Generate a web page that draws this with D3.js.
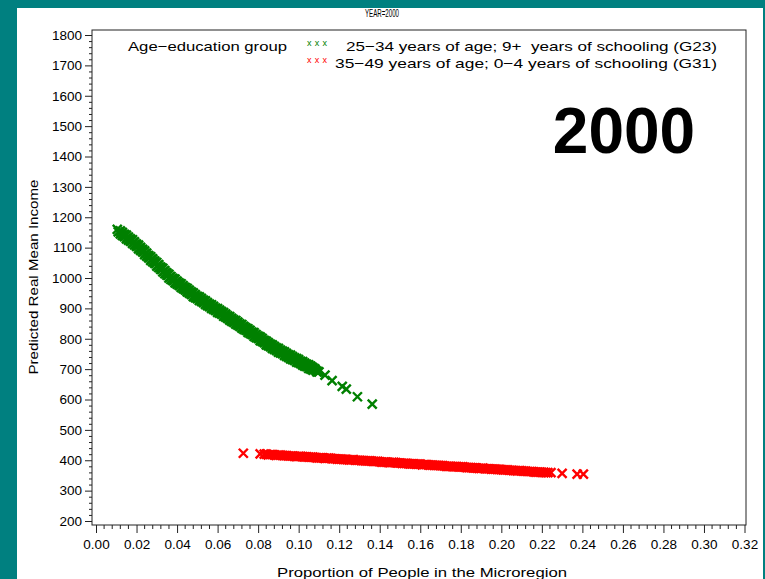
<!DOCTYPE html>
<html>
<head>
<meta charset="utf-8">
<script src="https://cdn.jsdelivr.net/npm/d3@7"></script>
<style>
  html, body { margin: 0; padding: 0; background: #008080; }
  svg { display: block; }
  text { font-family: "Liberation Sans", Arial, sans-serif; fill: #000; white-space: pre; }
</style>
</head>
<body>
<svg id="chart" width="765" height="579"></svg>
<script>
// Age-education group G23: 25-34 years of age, 9+ years of schooling
const g23X = [0.0105, 0.011, 0.012, 0.013, 0.014, 0.015, 0.016, 0.017, 0.018, 0.019, 0.020,
  0.021, 0.022, 0.023, 0.024, 0.025, 0.026, 0.027, 0.028, 0.029, 0.030,
  0.031, 0.032, 0.033, 0.034, 0.035, 0.036, 0.037, 0.038, 0.039, 0.040,
  0.041, 0.042, 0.043, 0.044, 0.045, 0.046, 0.047, 0.048, 0.049, 0.050,
  0.051, 0.052, 0.053, 0.054, 0.055, 0.056, 0.057, 0.058, 0.059, 0.060,
  0.061, 0.062, 0.063, 0.064, 0.065, 0.066, 0.067, 0.068, 0.069, 0.070,
  0.071, 0.072, 0.073, 0.074, 0.075, 0.076, 0.077, 0.078, 0.079, 0.080,
  0.081, 0.082, 0.083, 0.084, 0.085, 0.086, 0.087, 0.088, 0.089, 0.090,
  0.091, 0.092, 0.093, 0.094, 0.095, 0.096, 0.097, 0.098, 0.099, 0.100,
  0.101, 0.102, 0.103, 0.104, 0.105, 0.106, 0.107, 0.108, 0.109, 0.110,
  0.113, 0.1165, 0.1215, 0.1235, 0.129, 0.1363,
  0.0125, 0.0135, 0.0145, 0.0155, 0.0165, 0.0175, 0.0185, 0.0195, 0.0205, 0.0215,
  0.0225, 0.0235, 0.0245, 0.0255, 0.0265, 0.0275, 0.0285, 0.0295, 0.0305, 0.0315,
  0.0325, 0.0335, 0.0345, 0.0355, 0.0365, 0.0375, 0.0385, 0.0395, 0.0405, 0.0415,
  0.0425, 0.0435, 0.0445, 0.0455, 0.0465, 0.0475, 0.0485, 0.0495, 0.0505, 0.0515,
  0.0525, 0.0535, 0.0545, 0.0555, 0.0565, 0.0575, 0.0585, 0.0595, 0.0605, 0.0615,
  0.0625, 0.0635, 0.0645, 0.0655, 0.0665, 0.0675, 0.0685, 0.0695, 0.0705, 0.0715,
  0.0725, 0.0735, 0.0745, 0.0755, 0.0765, 0.0775, 0.0785, 0.0795, 0.0805, 0.0815,
  0.0825, 0.0835, 0.0845, 0.0855, 0.0865, 0.0875, 0.0885, 0.0895, 0.0905, 0.0915,
  0.0925, 0.0935, 0.0945, 0.0955, 0.0965, 0.0975, 0.0985, 0.0995, 0.1005, 0.1015,
  0.1025, 0.1035, 0.1045, 0.1055, 0.1065, 0.1075, 0.1085, 0.1095,
  0.012, 0.013, 0.014, 0.015, 0.016, 0.017, 0.018, 0.019, 0.020,
  0.021, 0.022, 0.023, 0.024, 0.025, 0.026, 0.027, 0.028, 0.029, 0.030,
  0.031, 0.032, 0.033, 0.034, 0.035, 0.036, 0.037, 0.038, 0.039, 0.040,
  0.041, 0.042, 0.043, 0.044, 0.045, 0.046, 0.047, 0.048, 0.049, 0.050,
  0.051, 0.052, 0.053, 0.054, 0.055, 0.056, 0.057, 0.058, 0.059, 0.060,
  0.061, 0.062, 0.063, 0.064, 0.065, 0.066, 0.067, 0.068, 0.069, 0.070,
  0.071, 0.072, 0.073, 0.074, 0.075, 0.076, 0.077, 0.078, 0.079, 0.080,
  0.081, 0.082, 0.083, 0.084, 0.085, 0.086, 0.087, 0.088, 0.089, 0.090,
  0.091, 0.092, 0.093, 0.094, 0.095, 0.096, 0.097, 0.098, 0.099, 0.100,
  0.101, 0.102, 0.103, 0.104, 0.105, 0.106, 0.107];
const g23Y = [1160, 1152, 1155, 1140, 1144, 1129, 1135, 1121, 1126, 1109, 1112,
  1096, 1101, 1086, 1089, 1072, 1074, 1058, 1063, 1048, 1051,
  1034, 1036, 1020, 1024, 1009, 1012, 995, 999, 984, 990,
  976, 981, 965, 969, 954, 960, 946, 951, 935, 940,
  926, 933, 919, 925, 909, 914, 900, 907, 893, 899,
  884, 889, 874, 881, 867, 873, 857, 862, 848, 855,
  841, 847, 831, 836, 821, 828, 814, 820, 804, 809,
  794, 801, 787, 792, 777, 782, 768, 775, 762, 768,
  753, 759, 745, 752, 739, 746, 731, 737, 723, 731,
  718, 725, 710, 716, 702, 710, 697, 701, 691, 691,
  680, 662, 643, 634, 609, 585,
  1147, 1142, 1138, 1132, 1127, 1122, 1117, 1111, 1105, 1099,
  1093, 1086, 1080, 1073, 1067, 1061, 1055, 1048, 1042, 1035,
  1029, 1022, 1016, 1009, 1003, 997, 992, 987, 982, 977,
  972, 967, 962, 957, 952, 947, 942, 938, 934, 930,
  925, 921, 916, 912, 908, 904, 899, 895, 891, 887,
  882, 878, 873, 869, 864, 860, 856, 852, 847, 843,
  838, 834, 829, 825, 820, 816, 811, 807, 802, 798,
  793, 788, 784, 780, 776, 772, 768, 764, 760, 756,
  753, 749, 745, 741, 738, 734, 731, 727, 724, 720,
  717, 713, 710, 706, 703, 699, 696, 692,
  1145, 1150, 1136, 1141, 1125, 1129, 1114, 1119, 1104,
  1108, 1091, 1094, 1077, 1082, 1066, 1070, 1053, 1056, 1039,
  1044, 1028, 1032, 1014, 1017, 1000, 1005, 991, 996, 980,
  984, 969, 975, 961, 966, 950, 954, 939, 945, 932,
  938, 923, 927, 913, 919, 906, 912, 897, 901, 887,
  894, 881, 886, 871, 875, 861, 867, 854, 860, 845,
  849, 835, 841, 828, 833, 818, 822, 808, 814, 801,
  806, 791, 795, 780, 787, 774, 780, 765, 770, 756,
  763, 751, 757, 742, 747, 734, 741, 729, 735, 721,
  726, 713, 720, 708, 714, 700, 705];

// Age-education group G31: 35-49 years of age, 0-4 years of schooling
const g31X = [0.0727, 0.081, 0.083, 0.085, 0.087, 0.089, 0.091, 0.093, 0.095, 0.097, 0.099,
  0.101, 0.103, 0.105, 0.107, 0.109, 0.111, 0.113, 0.115, 0.117, 0.119,
  0.121, 0.123, 0.125, 0.127, 0.129, 0.131, 0.133, 0.135, 0.137, 0.139,
  0.141, 0.143, 0.145, 0.147, 0.149, 0.151, 0.153, 0.155, 0.157, 0.159,
  0.161, 0.163, 0.165, 0.167, 0.169, 0.171, 0.173, 0.175, 0.177, 0.179,
  0.181, 0.183, 0.185, 0.187, 0.189, 0.191, 0.193, 0.195, 0.197, 0.199,
  0.201, 0.203, 0.205, 0.207, 0.209, 0.211, 0.213, 0.215, 0.217, 0.219,
  0.221, 0.223, 0.2245, 0.230, 0.2374, 0.2405,
  0.084, 0.086, 0.088, 0.090, 0.092, 0.094, 0.096, 0.098, 0.100, 0.102,
  0.104, 0.106, 0.108, 0.110, 0.112, 0.114, 0.116, 0.118, 0.120, 0.122,
  0.124, 0.126, 0.128, 0.130, 0.132, 0.134, 0.136, 0.138, 0.140, 0.142,
  0.144, 0.146, 0.148, 0.150, 0.152, 0.154, 0.156, 0.158, 0.160, 0.162,
  0.164, 0.166, 0.168, 0.170, 0.172, 0.174, 0.176, 0.178, 0.180, 0.182,
  0.184, 0.186, 0.188, 0.190, 0.192, 0.194, 0.196, 0.198, 0.200, 0.202,
  0.204, 0.206, 0.208, 0.210, 0.212, 0.214, 0.216, 0.218, 0.220, 0.222];
const g31Y = [423, 421, 420, 418, 419, 416, 417, 415, 414, 414, 412,
  413, 411, 410, 410, 408, 408, 406, 407, 405, 404,
  404, 403, 401, 402, 400, 399, 398, 398, 396, 396,
  394, 394, 392, 393, 391, 390, 390, 388, 388, 387,
  385, 386, 384, 383, 383, 382, 380, 380, 379, 378,
  378, 376, 376, 375, 373, 374, 372, 371, 371, 370,
  368, 368, 367, 366, 366, 364, 363, 363, 361, 361,
  360, 359, 359, 357, 354, 354,
  420, 419, 418, 417, 416, 415, 414, 413, 413, 412,
  411, 410, 409, 408, 408, 407, 406, 405, 404, 403,
  402, 401, 400, 400, 399, 398, 397, 396, 395, 394,
  393, 393, 392, 391, 390, 389, 388, 387, 387, 386,
  385, 384, 383, 382, 381, 380, 379, 379, 378, 377,
  376, 375, 374, 373, 372, 372, 371, 370, 369, 368,
  367, 366, 365, 365, 364, 363, 362, 361, 360, 359];

const xTicks = [0.00, 0.02, 0.04, 0.06, 0.08, 0.10, 0.12, 0.14, 0.16, 0.18, 0.20, 0.22, 0.24, 0.26, 0.28, 0.30, 0.32];
const yTicks = [200, 300, 400, 500, 600, 700, 800, 900, 1000, 1100, 1200, 1300, 1400, 1500, 1600, 1700, 1800];

const legendTitle = "Age\u2212education group";
const seriesLabels = [
  "25\u221234 years of age; 9+  years of schooling (G23)",
  "35\u221249 years of age; 0\u22124 years of schooling (G31)"
];
const seriesColors = ["#008000", "#ff0000"];

const svg = d3.select("#chart");

// white page panel over the teal background
svg.append("rect").attr("x", 17).attr("y", 8).attr("width", 746).attr("height", 571).attr("fill", "#fff");

const x = d3.scaleLinear().domain([0, 0.32]).range([96, 744.5]);
const y = d3.scaleLinear().domain([200, 1800]).range([521, 35]);

// plot frame
svg.append("rect").attr("x", 92).attr("y", 30).attr("width", 654).attr("height", 495)
  .attr("fill", "none").attr("stroke", "#222").attr("stroke-width", 1);

// header
svg.append("text").attr("x", 382).attr("y", 17).attr("text-anchor", "middle")
  .attr("font-size", 10.5).attr("textLength", 34).attr("lengthAdjust", "spacingAndGlyphs")
  .text("YEAR=2000");

// y axis: major and minor ticks
const yAxis = svg.append("g").attr("transform", "translate(92,0)")
  .call(d3.axisLeft(y).tickValues(yTicks).tickSize(7).tickPadding(3).tickFormat(d3.format("d")));
yAxis.select(".domain").remove();
yAxis.selectAll("text").attr("font-size", 13.5).attr("font-family", "Liberation Sans, Arial, sans-serif").attr("fill", "#000");
yAxis.selectAll("line").attr("stroke", "#222");
const yMinor = d3.range(220, 1800, 20).filter(v => v % 100 !== 0);
svg.append("g").selectAll("line").data(yMinor).join("line")
  .attr("x1", 89).attr("x2", 92).attr("y1", d => y(d) + 0.5).attr("y2", d => y(d) + 0.5)
  .attr("stroke", "#222");

// x axis: major and minor ticks
const xAxis = svg.append("g").attr("transform", "translate(0,525)")
  .call(d3.axisBottom(x).tickValues(xTicks).tickSize(8).tickPadding(6).tickFormat(d3.format(".2f")));
xAxis.select(".domain").remove();
xAxis.selectAll("text").attr("font-size", 13.5).attr("font-family", "Liberation Sans, Arial, sans-serif").attr("fill", "#000");
xAxis.selectAll("line").attr("stroke", "#222");
const xMinor = d3.range(1, 80).map(i => i * 0.004).filter((v, i) => (i + 1) % 5 !== 0);
svg.append("g").selectAll("line").data(xMinor).join("line")
  .attr("x1", d => x(d)).attr("x2", d => x(d)).attr("y1", 525).attr("y2", 529)
  .attr("stroke", "#222");

// axis titles
svg.append("text").attr("x", 422).attr("y", 577).attr("text-anchor", "middle")
  .attr("font-size", 13.5).attr("textLength", 290).attr("lengthAdjust", "spacingAndGlyphs")
  .text("Proportion of People in the Microregion");
svg.append("text").attr("transform", "translate(38,277) rotate(-90)").attr("text-anchor", "middle")
  .attr("font-size", 13.5).attr("textLength", 195).attr("lengthAdjust", "spacingAndGlyphs")
  .text("Predicted Real Mean Income");

// legend
svg.append("text").attr("x", 128).attr("y", 51).attr("font-size", 13.5)
  .attr("textLength", 159).attr("lengthAdjust", "spacingAndGlyphs").text(legendTitle);
const legendRows = [{ sx: 346, len: 371, by: 51 }, { sx: 335, len: 382, by: 68 }];
seriesLabels.forEach((lab, i) => {
  const r = legendRows[i];
  svg.append("text").attr("x", 307).attr("y", r.by - 5).attr("font-size", 9)
    .attr("textLength", 20).attr("lengthAdjust", "spacing")
    .style("fill", seriesColors[i]).text("xxx");
  svg.append("text").attr("x", r.sx).attr("y", r.by).attr("font-size", 13.5)
    .attr("textLength", r.len).attr("lengthAdjust", "spacingAndGlyphs").text(lab);
});

// year stamp
svg.append("text").attr("x", 624).attr("y", 153).attr("text-anchor", "middle")
  .attr("font-size", 64).attr("font-weight", "bold").text("2000");

// scatter markers
const xMark = "M-4.5,-4.5L4.5,4.5M-4.5,4.5L4.5,-4.5";
const series = [
  { xs: g23X, ys: g23Y, color: seriesColors[0] },
  { xs: g31X, ys: g31Y, color: seriesColors[1] }
];
series.forEach(s => {
  const pts = s.xs.map((v, i) => [v, s.ys[i]]);
  svg.append("g").selectAll("path").data(pts).join("path")
    .attr("transform", d => `translate(${x(d[0])},${y(d[1])})`)
    .attr("d", xMark).attr("fill", "none")
    .attr("stroke", s.color).attr("stroke-width", 2.4);
});
</script>
</body>
</html>
